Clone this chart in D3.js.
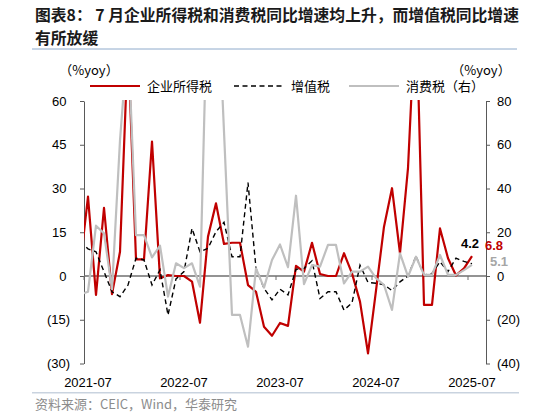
<!DOCTYPE html>
<html lang="zh">
<head>
<meta charset="UTF-8">
<title>企业所得税、增值税、消费税同比</title>
<script src="https://d3js.org/d3.v7.min.js"></script>
<style>
    body { margin: 0; background: #fff; }
    svg { display: block; font-family: "Liberation Sans", Arial, "Noto Sans CJK SC", sans-serif; }
    .cjk { font-family: "Noto Sans CJK SC", sans-serif; }
</style>
</head>
<body>
<svg id="chart" width="534" height="417"></svg>
<script>
    // months 2021-06 .. 2025-07 (the first one sits just left of the axis and is clipped)
    const months = d3.timeMonths(new Date(2021, 5, 1), new Date(2025, 7, 1));

    // 企业所得税 yoy, %, left axis
    const corpTax = [3, 27.2, -6.5, 23.4, -6.2, 8.3, 80, 5.7, 5.7, 46.1,
        -0.8, 0.3, 0, 0, -1.9, -16, 13.5, 24.9, 11, 11.4,
        11.4, -3.1, -5.4, -17.4, -20.5, -16.1, -17.1, 3.5, 1.5, 11.4,
        0.7, 0, 0, 7.8, 0.9, -8.8, -26.5, -5, 16.9, 30.1,
        7.8, 37, 95, -9.9, -9.9, 16.3, 6.1, 0.2, 2.6, 6.8];

    // 增值税 yoy, %, left axis
    const vat = [11.8, 9.3, 8.3, 1.5, -5.4, -7.1, -3.1, 6.1, 5.5, -3.1,
        2.1, -13.4, -1, 1.5, 16.3, 8.3, 9.5, 15.2, 18.4, 6.6,
        6.6, 32, 2.6, -4.2, -8.2, -4.5, -6.5, 2.3, 2.6, 5.2,
        -7.7, -5.4, -5.4, -11.7, -9.2, 3.7, -2.2, -2.5, -3, -5,
        -2, 0, 6.8, 0.3, 0.9, 4.9, 1.5, 6.1, 5, 4.2];

    // 消费税 yoy, %, right axis
    const consTax = [-8.4, -7.2, 23, 19.5, -6, 62, 110, 18.7, 18.7, 8.5,
        13.9, -9.4, 5.8, 3.6, 5.8, -4.9, 140, 150, 66, -17.8,
        -17.8, -32.3, 3.5, -5.3, 7.3, 14.4, 4, 36.7, -3.7, 5,
        4.3, 14.2, 14.2, -3.4, 2, 2, 4.3, -1, -4.1, -15.5,
        10.4, -0.3, 8.8, 0.5, 0.5, 9.6, 0.5, 0.5, 2.7, 5.1];

    const leftTicks = [-30, -15, 0, 15, 30, 45, 60];
    const rightTicks = [-40, -20, 0, 20, 40, 60, 80];
    const labelMonths = ["2021-07", "2022-07", "2023-07", "2024-07", "2025-07"];

    const fmtMonth = d3.timeFormat("%Y-%m");
    const keys = months.map(fmtMonth);
    const paren = d => d < 0 ? `(${-d})` : `${d}`;

    const svg = d3.select("#chart");
    const plot = { left: 84, right: 486, top: 101, bottom: 363.5 };

    const x = d3.scalePoint().domain(keys).range([80, 472]);
    const yL = d3.scaleLinear().domain([-30, 60]).range([plot.bottom, plot.top]);
    const yR = d3.scaleLinear().domain([-40, 80]).range([plot.bottom, plot.top]);

    // title
    const title = svg.append("g").attr("class", "cjk")
        .style("font-weight", "bold").style("font-size", "15.8px").attr("fill", "#1a1a1a");
    title.append("text").attr("x", 35).attr("y", 20.5)
        .text("图表8： 7 月企业所得税和消费税同比增速均上升，而增值税同比增速");
    title.append("text").attr("x", 35).attr("y", 43.5).text("有所放缓");
    svg.append("line").attr("x1", 32).attr("x2", 517).attr("y1", 49).attr("y2", 49)
        .attr("stroke", "#8eaacb").attr("stroke-width", 1);

    // axis titles
    svg.append("text").attr("class", "cjk").attr("x", 89).attr("y", 75)
        .attr("text-anchor", "middle").style("font-size", "13px").text("（%yoy）");
    svg.append("text").attr("class", "cjk").attr("x", 481).attr("y", 75)
        .attr("text-anchor", "middle").style("font-size", "13px").text("（%yoy）");

    // legend
    const legend = svg.append("g").attr("class", "cjk").style("font-size", "13px");
    const items = [
        { name: "企业所得税", x: 90, color: "#c00000", dash: null, w: 2.2 },
        { name: "增值税", x: 234, color: "#000", dash: "5,3.5", w: 1.4 },
        { name: "消费税（右）", x: 349, color: "#bfbfbf", dash: null, w: 2.2 }
    ];
    items.forEach(it => {
        legend.append("line").attr("x1", it.x).attr("x2", it.x + 50).attr("y1", 86).attr("y2", 86)
            .attr("stroke", it.color).attr("stroke-width", it.w).attr("stroke-dasharray", it.dash);
        legend.append("text").attr("x", it.x + 57).attr("y", 91).text(it.name);
    });

    // axes
    const leftAxis = svg.append("g").attr("transform", `translate(${plot.left},0)`)
        .call(d3.axisLeft(yL).tickValues(leftTicks).tickSize(4).tickSizeOuter(0).tickPadding(10).tickFormat(paren));
    leftAxis.selectAll("text").attr("x", d => d < 0 ? -14 : -17.5);
    const rightAxis = svg.append("g").attr("transform", `translate(${plot.right},0)`)
        .call(d3.axisRight(yR).tickValues(rightTicks).tickSize(4).tickSizeOuter(0).tickPadding(7).tickFormat(paren));
    [leftAxis, rightAxis].forEach(a => {
        a.select(".domain").attr("stroke", "#595959");
        a.selectAll(".tick line").attr("stroke", "#595959");
        a.selectAll("text").style("font-size", "13px").attr("fill", "#000")
            .style("font-family", "'Liberation Sans', Arial, sans-serif");
    });

    // zero line with yearly tick marks
    svg.append("line").attr("x1", plot.left).attr("x2", plot.right)
        .attr("y1", yL(0)).attr("y2", yL(0)).attr("stroke", "#6f6f6f").attr("stroke-width", 1.5);
    svg.selectAll(".xtick").data(labelMonths).enter().append("line")
        .attr("x1", d => x(d) - x.step() / 2).attr("x2", d => x(d) - x.step() / 2)
        .attr("y1", yL(0)).attr("y2", yL(0) + 4).attr("stroke", "#6f6f6f");
    svg.selectAll(".xlabel").data(labelMonths).enter().append("text")
        .attr("x", d => x(d)).attr("y", 386.5).attr("text-anchor", "middle")
        .style("font-size", "13px").text(d => d);

    // series
    svg.append("clipPath").attr("id", "plotClip").append("rect")
        .attr("x", plot.left).attr("y", plot.top - 1)
        .attr("width", plot.right - plot.left).attr("height", plot.bottom - plot.top + 1);
    const lines = svg.append("g").attr("clip-path", "url(#plotClip)");
    const lineL = d3.line().x((d, i) => x(keys[i])).y(d => yL(d));
    const lineR = d3.line().x((d, i) => x(keys[i])).y(d => yR(d));

    lines.append("path").datum(corpTax).attr("d", lineL)
        .attr("fill", "none").attr("stroke", "#c00000").attr("stroke-width", 2.2).attr("stroke-linejoin", "round");
    lines.append("path").datum(vat).attr("d", lineL)
        .attr("fill", "none").attr("stroke", "#000").attr("stroke-width", 1.4).attr("stroke-dasharray", "5,3.5");
    lines.append("path").datum(consTax).attr("d", lineR)
        .attr("fill", "none").attr("stroke", "#bfbfbf").attr("stroke-width", 2.2).attr("stroke-linejoin", "round");

    // end labels
    const last = keys[keys.length - 1];
    const endLabels = [
        { v: vat[vat.length - 1], y: yL, color: "#000", dx: -2, dy: -16 },
        { v: corpTax[corpTax.length - 1], y: yL, color: "#c00000", dx: 22, dy: -6.5 },
        { v: consTax[consTax.length - 1], y: yR, color: "#a6a6a6", dx: 27, dy: 1.4 }
    ];
    endLabels.forEach(l => {
        svg.append("text").attr("x", x(last) + l.dx).attr("y", l.y(l.v) + l.dy)
            .attr("text-anchor", "middle").style("font-size", "13px").style("font-weight", "bold")
            .attr("fill", l.color).text(l.v.toFixed(1));
    });

    // source
    svg.append("line").attr("x1", 32).attr("x2", 519).attr("y1", 392.7).attr("y2", 392.7)
        .attr("stroke", "#c9d3df").attr("stroke-width", 1.5);
    svg.append("text").attr("class", "cjk").attr("x", 35).attr("y", 408.5)
        .style("font-size", "13px").attr("fill", "#8c8c8c").text("资料来源：CEIC，Wind，华泰研究");
</script>
</body>
</html>
